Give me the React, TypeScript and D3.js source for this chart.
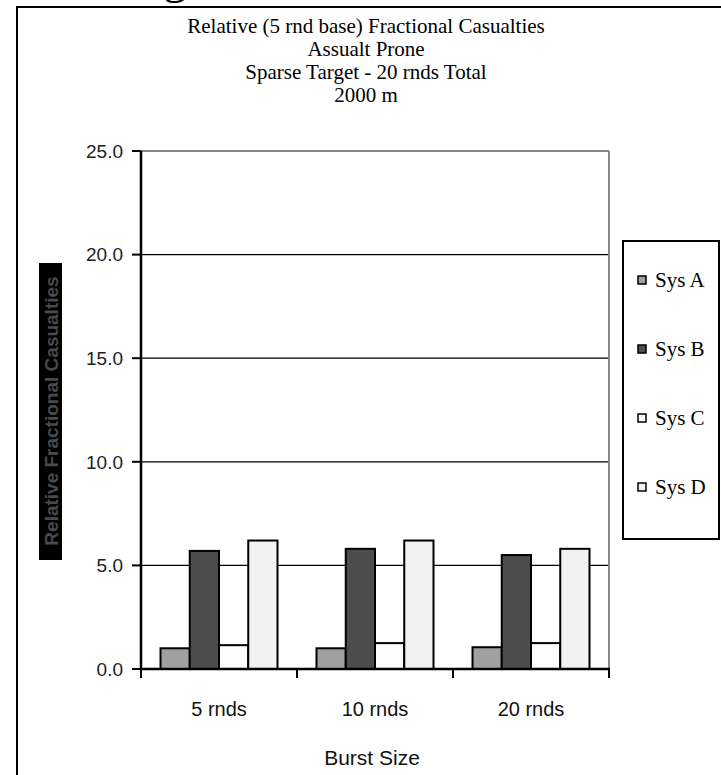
import React from "react";
import * as d3 from "d3";

// Burst sizes along the x axis
const categories = ["5 rnds", "10 rnds", "20 rnds"];
// Systems compared in each burst group
const seriesNames = ["Sys A", "Sys B", "Sys C", "Sys D"];
// Relative fractional casualties per system, one value per burst size
const sysA = [1.0, 1.0, 1.05];
const sysB = [5.7, 5.8, 5.5];
const sysC = [1.15, 1.25, 1.25];
const sysD = [6.2, 6.2, 5.8];
const yTicks = [0, 5, 10, 15, 20, 25];
const titleLines = [
  "Relative (5 rnd base) Fractional Casualties",
  "Assualt Prone",
  "Sparse Target - 20 rnds Total",
  "2000 m",
];

const seriesValues = [sysA, sysB, sysC, sysD];
const seriesFills = ["#a0a0a0", "#4d4d4d", "#fcfcfc", "#f2f2f2"];

const W = 721;
const H = 775;
const plot = { left: 141, right: 609, top: 151, bottom: 669 };
const sans = "'Liberation Sans', Arial, sans-serif";
const serif = "'Liberation Serif', 'Times New Roman', serif";

export default function App() {
  const y = d3.scaleLinear().domain([0, 25]).range([plot.bottom, plot.top]);
  const x = d3
    .scaleBand<string>()
    .domain(categories)
    .range([plot.left, plot.right])
    .paddingInner(0)
    .paddingOuter(0);
  const step = x.step();
  const groupGap = 39;
  const inner = d3
    .scaleBand<string>()
    .domain(seriesNames)
    .range([groupGap / 2, step - groupGap / 2])
    .padding(0);

  const boundaries = d3.range(categories.length + 1).map((i) => plot.left + i * step);

  return (
    <svg
      width={W}
      height={H}
      viewBox={`0 0 ${W} ${H}`}
      style={{ position: "absolute", left: 0, top: 0, background: "#fff" }}
    >
      {/* heading text above the chart frame, mostly clipped */}
      <text x={163} y={-7} fontFamily={serif} fontSize={48} fill="#000">
        g
      </text>

      {/* chart frame */}
      <rect x={17} y={7} width={740} height={800} fill="#fff" stroke="#000" strokeWidth={2} />

      {/* title */}
      {titleLines.map((t, i) => (
        <text
          key={t}
          x={366}
          y={33 + i * 23}
          textAnchor="middle"
          fontFamily={serif}
          fontSize={21}
          fill="#000"
        >
          {t}
        </text>
      ))}

      {/* gridlines */}
      {yTicks
        .filter((v) => v > 0 && v < 25)
        .map((v) => (
          <line
            key={`g${v}`}
            x1={plot.left}
            x2={plot.right}
            y1={y(v)}
            y2={y(v)}
            stroke="#000"
            strokeWidth={1.3}
          />
        ))}
      {/* plot area border (top and right) */}
      <line x1={plot.left} x2={plot.right} y1={y(25)} y2={y(25)} stroke="#888" strokeWidth={2} />
      <line x1={plot.right} x2={plot.right} y1={y(25)} y2={plot.bottom} stroke="#888" strokeWidth={2} />

      {/* bars */}
      {seriesNames.map((s, si) =>
        categories.map((c, ci) => {
          const v = seriesValues[si][ci];
          const bx = (x(c) ?? 0) + (inner(s) ?? 0);
          return (
            <rect
              key={`${s}-${c}`}
              x={bx}
              y={y(v)}
              width={inner.bandwidth()}
              height={y(0) - y(v)}
              fill={seriesFills[si]}
              stroke="#000"
              strokeWidth={2}
            />
          );
        })
      )}

      {/* y axis */}
      <line x1={plot.left} x2={plot.left} y1={plot.top} y2={plot.bottom + 1} stroke="#000" strokeWidth={2.5} />
      {yTicks.map((v) => (
        <g key={`t${v}`}>
          <line x1={plot.left - 9} x2={plot.left} y1={y(v)} y2={y(v)} stroke="#000" strokeWidth={2} />
          <text
            x={plot.left - 18}
            y={y(v)}
            dy="0.36em"
            textAnchor="end"
            fontFamily={sans}
            fontSize={19}
            fill="#222"
          >
            {v.toFixed(1)}
          </text>
        </g>
      ))}

      {/* x axis */}
      <line x1={plot.left} x2={plot.right + 1} y1={plot.bottom} y2={plot.bottom} stroke="#000" strokeWidth={2.5} />
      {boundaries.map((bx, i) => (
        <line key={`b${i}`} x1={bx} x2={bx} y1={plot.bottom} y2={plot.bottom + 9} stroke="#000" strokeWidth={2} />
      ))}
      {categories.map((c) => (
        <text
          key={c}
          x={(x(c) ?? 0) + step / 2}
          y={716}
          textAnchor="middle"
          fontFamily={sans}
          fontSize={20}
          fill="#111"
        >
          {c}
        </text>
      ))}
      <text x={372} y={765} textAnchor="middle" fontFamily={sans} fontSize={21} fill="#111">
        Burst Size
      </text>

      {/* y axis title */}
      <rect x={39} y={263} width={23} height={297} fill="#000" />
      <text
        transform={`translate(51,${411}) rotate(-90)`}
        textAnchor="middle"
        dy="0.36em"
        fontFamily={sans}
        fontWeight="bold"
        fontSize={19}
        fill="#4a4a4a"
      >
        Relative Fractional Casualties
      </text>

      {/* legend */}
      <rect x={623} y={241} width={96} height={298} fill="#fff" stroke="#000" strokeWidth={2} />
      {seriesNames.map((s, i) => {
        const cy = 280 + i * 69;
        return (
          <g key={s}>
            <rect x={638} y={cy - 4} width={8} height={8} fill={seriesFills[i]} stroke="#000" strokeWidth={1.5} />
            <text x={655} y={cy} dy="0.35em" fontFamily={serif} fontSize={21} fill="#000">
              {s}
            </text>
          </g>
        );
      })}
    </svg>
  );
}
